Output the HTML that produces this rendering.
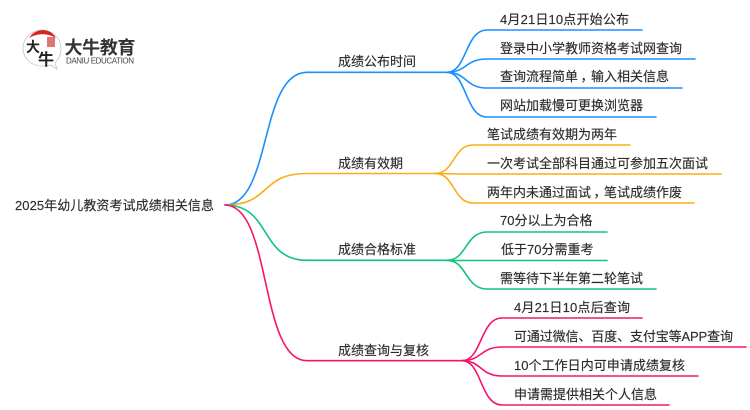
<!DOCTYPE html>
<html><head><meta charset="utf-8"><style>
html,body{margin:0;padding:0;background:#fff;width:750px;height:410px;overflow:hidden}
svg{display:block;filter:blur(0.3px)}
text{font-family:"Liberation Sans","Noto Sans CJK SC",sans-serif;font-size:13px;fill:#2b2b2b;stroke:#2b2b2b;stroke-width:0.15}
</style></head><body>
<svg width="750" height="410" viewBox="0 0 750 410" xmlns="http://www.w3.org/2000/svg">
<g fill="none" stroke-width="1.6" stroke-linecap="round">
<g stroke="#1890ff">
<path d="M225 205C272 205 259 72.3 307 72.3H447"/>
<path d="M447 72.3C467 72.3 465 30 487 30H642"/>
<path d="M447 72.3C467 72.3 465 59 487 59H695"/>
<path d="M447 72.3C467 72.3 465 88 487 88H682"/>
<path d="M447 72.3C467 72.3 465 117 487 117H656"/>
</g>
<g stroke="#faad14">
<path d="M225 205C272 205 259 173.5 307 173.5H435"/>
<path d="M435 173.5C455 173.5 453 145 473 145H630"/>
<path d="M435 173.5Q455 174 473 174H721"/>
<path d="M435 173.5C455 173.5 453 203 473 203H694"/>
</g>
<g stroke="#13c27a">
<path d="M225 205C272 205 259 260.3 307 260.3H447"/>
<path d="M447 260.3C467 260.3 465 232 487 232H607"/>
<path d="M447 260.5H607"/>
<path d="M447 260.3C467 260.3 465 289 487 289H656"/>
</g>
<g stroke="#f5136f">
<path d="M225 205C272 205 259 360.7 307 360.7H462"/>
<path d="M462 360.7C482 360.7 480 318 502 318H642"/>
<path d="M462 360.7C482 360.7 480 347 502 347H746"/>
<path d="M462 360.7C482 360.7 480 376 502 376H698"/>
<path d="M462 360.7C482 360.7 480 405 502 405H669"/>
</g>
</g>
<text x="15" y="210" textLength="199" lengthAdjust="spacing">2025年幼儿教资考试成绩相关信息</text>
<text x="338" y="66">成绩公布时间</text>
<text x="338" y="168">成绩有效期</text>
<text x="338" y="254">成绩合格标准</text>
<text x="338" y="355">成绩查询与复核</text>
<text x="500" y="24" textLength="129" lengthAdjust="spacing">4月21日10点开始公布</text>
<text x="500" y="53">登录中小学教师资格考试网查询</text>
<text x="500" y="81">查询流程简单<tspan dx="2.5">，</tspan><tspan dx="-2.5">输入相关信息</tspan></text>
<text x="500" y="110">网站加载慢可更换浏览器</text>
<text x="487" y="139">笔试成绩有效期为两年</text>
<text x="487" y="168">一次考试全部科目通过可参加五次面试</text>
<text x="487" y="197">两年内未通过面试<tspan dx="2.5">，</tspan><tspan dx="-2.5">笔试成绩作废</tspan></text>
<text x="500" y="225">70分以上为合格</text>
<text x="501" y="254">低于70分需重考</text>
<text x="500" y="283">需等待下半年第二轮笔试</text>
<text x="514" y="312" textLength="116" lengthAdjust="spacing">4月21日10点后查询</text>
<text x="514" y="341" textLength="219" lengthAdjust="spacing">可通过微信、百度、支付宝等APP查询</text>
<text x="514" y="370" textLength="171" lengthAdjust="spacing">10个工作日内可申请成绩复核</text>
<text x="514" y="399">申请需提供相关个人信息</text>
<!-- logo -->
<path d="M42 30C32 30 23 38 23 48C23 59 32 66 42 66C46 66 49 66 51 65L57 69L55 63C59 59 61 54 61 48C61 38 52 30 42 30Z" fill="#fff" stroke="#c4c4c4" stroke-width="0.8"/>
<path d="M29 38C35 28 50 27 56 38C48 33 37 33 29 38Z" fill="#d9231f"/>
<rect x="47" y="37" width="8" height="10" fill="#d9534f" opacity="0.8"/>
<text x="26" y="52" style="font-size:14px;font-weight:700;fill:#222;stroke:none;font-family:'Noto Sans CJK SC',sans-serif">大</text>
<text x="38" y="65" style="font-size:16px;font-weight:700;fill:#222;stroke:none;font-family:'Noto Sans CJK SC',sans-serif">牛</text>
<text x="64.5" y="54" textLength="71" style="font-size:18px;font-weight:700;fill:#333;stroke:none;font-family:'Noto Sans CJK SC',sans-serif">大牛教育</text>
<text x="66" y="63.5" textLength="68" style="font-size:8px;fill:#444;stroke:none">DANIU EDUCATION</text>
</svg>
</body></html>
